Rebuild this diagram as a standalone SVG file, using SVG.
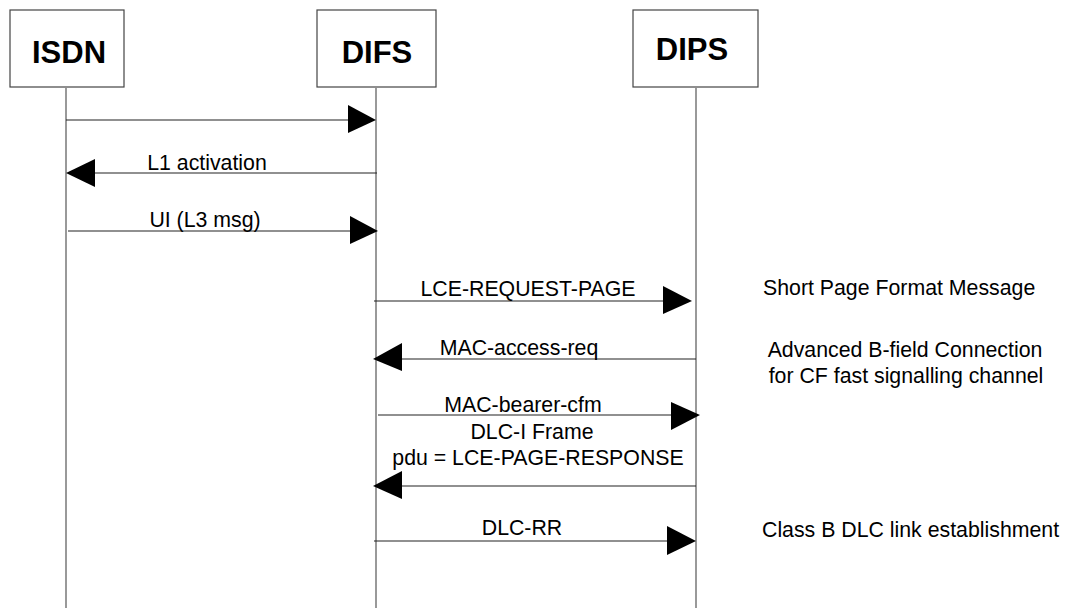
<svg xmlns="http://www.w3.org/2000/svg" width="1071" height="608" viewBox="0 0 1071 608">
<style>
.box{fill:#fff;stroke:#444;stroke-width:1.2}
.ttl{font-family:"Liberation Sans",Arial,sans-serif;font-weight:bold;font-size:31px;fill:#000;text-anchor:middle}
.life{stroke:#555;stroke-width:1.2;fill:none}
.msg{stroke:#222;stroke-width:1.2;fill:none}
.head{fill:#000;stroke:none}
.lbl{font-family:"Liberation Sans",Arial,sans-serif;font-size:21.3px;fill:#000;text-anchor:middle}
.note{font-family:"Liberation Sans",Arial,sans-serif;font-size:21.3px;fill:#000}
</style>
<rect width="1071" height="608" fill="#fff"/>
<g id="isdn">
<rect class="box" x="10" y="10" width="114" height="77"/>
<text class="ttl" x="69" y="63">ISDN</text>
<line class="life" x1="66" y1="88" x2="66" y2="608"/>
</g>
<g id="difs">
<rect class="box" x="317" y="10" width="119" height="77"/>
<text class="ttl" x="377" y="63">DIFS</text>
<line class="life" x1="376" y1="88" x2="376" y2="608"/>
</g>
<g id="dips">
<rect class="box" x="633" y="10" width="125" height="77"/>
<text class="ttl" x="692" y="60">DIPS</text>
<line class="life" x1="696" y1="88" x2="696" y2="608"/>
</g>
<g id="connectors">
<line class="msg" x1="66" y1="120" x2="350" y2="120"/>
<polygon class="head" points="348,105 376,120 348,133"/>

<line class="msg" x1="377" y1="173" x2="92" y2="173"/>
<polygon class="head" points="66,173 95,159 95,187"/>
<text class="lbl" x="207" y="170">L1 activation</text>

<line class="msg" x1="68" y1="231" x2="352" y2="231"/>
<polygon class="head" points="350,216 378,231 350,244"/>
<text class="lbl" x="205" y="227">UI (L3 msg)</text>

<line class="msg" x1="374" y1="301" x2="665" y2="301"/>
<polygon class="head" points="663,286 692,301 663,314"/>
<text class="lbl" x="528" y="296">LCE-REQUEST-PAGE</text>

<line class="msg" x1="696" y1="359" x2="400" y2="359"/>
<polygon class="head" points="373,359 402,343 402,371"/>
<text class="lbl" x="519" y="355">MAC-access-req</text>

<line class="msg" x1="378" y1="415" x2="673" y2="415"/>
<polygon class="head" points="671,402 700,415 671,430"/>
<text class="lbl" x="523" y="412">MAC-bearer-cfm</text>
<text class="lbl" x="532" y="439">DLC-I Frame</text>
<text class="lbl" x="538" y="465">pdu = LCE-PAGE-RESPONSE</text>

<line class="msg" x1="696" y1="486" x2="400" y2="486"/>
<polygon class="head" points="373,486 402,471 402,499"/>

<line class="msg" x1="374" y1="541" x2="669" y2="541"/>
<polygon class="head" points="667,526 696,541 667,555"/>
<text class="lbl" x="522" y="535">DLC-RR</text>
</g>
<g id="notes">
<text class="note" x="763" y="295">Short Page Format Message</text>
<text class="note" x="905" y="357" text-anchor="middle">Advanced B-field Connection</text>
<text class="note" x="906" y="383" text-anchor="middle">for CF fast signalling channel</text>
<text class="note" x="762" y="537">Class B DLC link establishment</text>
</g>
</svg>
